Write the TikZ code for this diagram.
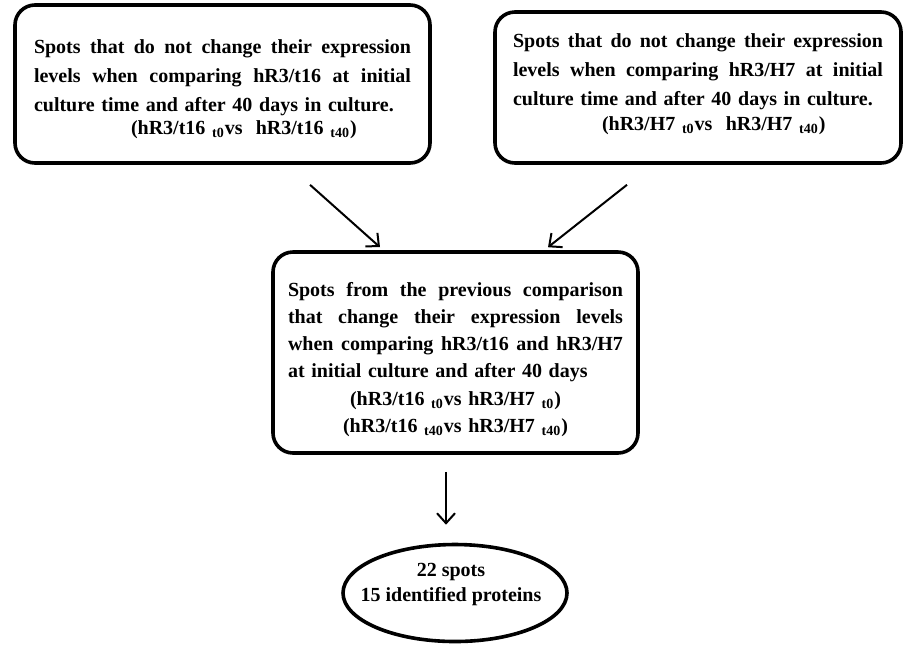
\documentclass[tikz,border=0pt]{standalone}
\usepackage{fontspec}
\setmainfont{Liberation Serif}
\usetikzlibrary{shapes.geometric,arrows.meta}
\newcommand{\jline}[2]{{\spaceskip=0.25em plus 3em\relax\makebox[#1][s]{#2}}}
\newcommand{\tsub}[1]{\textsubscript{\bfseries #1}}
\begin{document}
\begin{tikzpicture}[x=0.5pt, y=-0.5pt,
    every node/.style={font=\bfseries\fontsize{10}{14.5}\selectfont, inner sep=0pt},
    roundbox/.style={draw, line width=1.8pt, rounded corners=10pt, align=left},
    oval/.style={draw, ellipse, line width=1.8pt, minimum width=112pt, minimum height=48.5pt},
    arr/.style={line width=1pt, -{Straight Barb[length=5pt, width=9pt, line width=1pt]}}]
\useasboundingbox (0,0) rectangle (903,644);
    \node[roundbox, minimum width=207.5pt, minimum height=79pt, text width=188.5pt, text height=12pt] (lbox) at (222.5,84) {%
        \jline{188.5pt}{Spots that do not change their expression}\\
        \jline{188.5pt}{levels when comparing hR3/t16 at initial}\\
        culture time and after 40 days in culture.\\[-3pt]
        \hspace*{48.5pt}(hR3/t16 \tsub{t0}vs\ \ hR3/t16 \tsub{t40})};
    \node[roundbox, minimum width=203pt, minimum height=75.5pt, text width=185pt, text height=4pt] (rbox) at (698,87.5) {%
        \jline{185pt}{Spots that do not change their expression}\\
        \jline{185pt}{levels when comparing hR3/H7 at initial}\\
        culture time and after 40 days in culture.\\[-2pt]
        \hspace*{44.5pt}(hR3/H7 \tsub{t0}vs\ \ hR3/H7 \tsub{t40})};
    \node[roundbox, minimum width=182.5pt, minimum height=100.5pt, text width=167.5pt, text height=14pt,
        font=\bfseries\fontsize{10}{13.6}\selectfont] (mbox) at (455.5,352.5) {%
        \jline{167.5pt}{Spots from the previous comparison}\\
        \jline{167.5pt}{that change their expression levels}\\
        \jline{167.5pt}{when comparing hR3/t16 and hR3/H7}\\
        at initial culture and after 40 days\\
        \makebox[167.5pt][c]{(hR3/t16 \tsub{t0}vs hR3/H7 \tsub{t0})}\\
        \makebox[167.5pt][c]{(hR3/t16 \tsub{t40}vs hR3/H7 \tsub{t40})}};
    \node[oval] (ebox) at (455,593) {};
    \node[align=center, font=\bfseries\fontsize{10}{12.5}\selectfont] (etext) at (451,584.5) {22 spots\\15 identified proteins};
    \coordinate (l1) at ([xshift=43.75pt, yshift=-10pt]lbox.south);
    \coordinate (l2) at ([xshift=-37.75pt, yshift=1.5pt]mbox.north);
    \coordinate (r1) at ([xshift=-35.5pt, yshift=-10pt]rbox.south);
    \coordinate (r2) at ([xshift=46.25pt, yshift=1.5pt]mbox.north);
    \coordinate (m1) at ([xshift=-4.75pt, yshift=-8.5pt]mbox.south);
    \coordinate (m2) at ([xshift=-4.5pt, yshift=9pt]ebox.north);
    \foreach \from/\to in {l1/l2, r1/r2, m1/m2}
        \draw[arr] (\from) -- (\to);
\end{tikzpicture}
\end{document}
